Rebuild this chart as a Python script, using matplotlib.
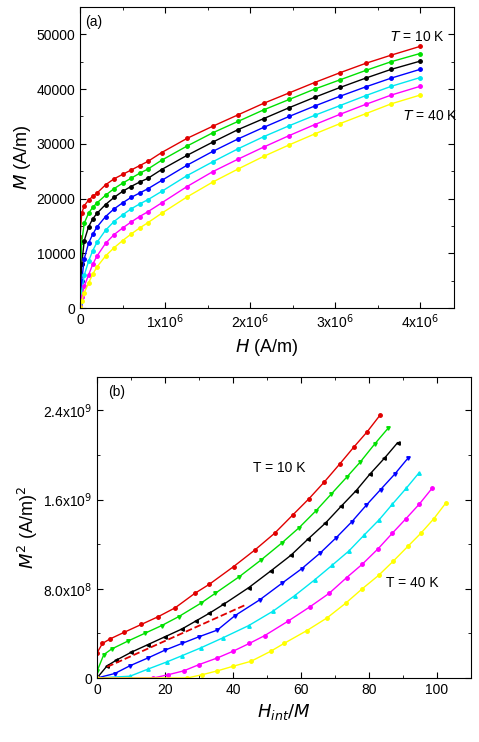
import numpy as np
import matplotlib.pyplot as plt

plt.rcParams['font.family'] = ['Liberation Sans', 'DejaVu Sans']

# (a) applied field (A/m) and magnetisation (A/m), T = 10 K ... 40 K
H = [0, 2e4, 5e4, 1e5, 1.5e5, 2e5, 3e5, 4e5, 5e5, 6e5, 7e5, 8e5, 9.6e5,
     1.26e6, 1.56e6, 1.86e6, 2.16e6, 2.46e6, 2.76e6, 3.06e6, 3.36e6, 3.66e6, 4e6]

M_10 = [13000, 17300, 18700, 19700, 20400, 21000, 22500, 23600, 24400, 25200, 26000, 26800, 28400,
        31000, 33200, 35300, 37400, 39300, 41200, 43000, 44700, 46200, 47800]
M_15 = [3500, 12000, 15500, 17300, 18400, 19200, 20600, 21800, 22800, 23700, 24600, 25400, 27000,
        29600, 32000, 34100, 36200, 38100, 40000, 41700, 43400, 45000, 46500]
M_20 = [1500, 8000, 12300, 14800, 16300, 17300, 18900, 20200, 21300, 22200, 23000, 23700, 25300,
        27900, 30300, 32600, 34600, 36600, 38500, 40300, 42000, 43600, 45100]
M_25 = [800, 5000, 9000, 11800, 13500, 14800, 16700, 18100, 19200, 20200, 21000, 21800, 23300,
        26100, 28600, 30900, 33000, 35000, 36900, 38700, 40400, 42000, 43600]
M_30 = [500, 3000, 6000, 8500, 10500, 12000, 14200, 15800, 17000, 18100, 19000, 19800, 21300,
        24200, 26700, 29100, 31300, 33300, 35200, 37000, 38800, 40500, 42100]
M_35 = [300, 2000, 4000, 6000, 8000, 9500, 11800, 13400, 14600, 15700, 16700, 17600, 19200,
        22200, 24900, 27200, 29400, 31500, 33500, 35400, 37200, 38900, 40500]
M_40 = [200, 1300, 2800, 4500, 6200, 7500, 9500, 11000, 12300, 13500, 14600, 15600, 17300,
        20300, 23000, 25400, 27700, 29800, 31800, 33700, 35500, 37300, 38900]

# (b) Arrott plot: H_int/M and M^2 (A/m)^2
x_10 = [0, 1.6, 3.8, 8, 13, 18, 23, 28.8, 33, 40.2, 46.5, 52.3, 57.5, 62.4, 66.9, 71.4, 75.5, 79.5, 83.3]
y_10 = [2.25e8, 3.1e8, 3.5e8, 4.1e8, 4.8e8, 5.5e8, 6.3e8, 7.6e8, 8.4e8, 1.0e9, 1.15e9, 1.30e9,
        1.46e9, 1.61e9, 1.76e9, 1.92e9, 2.07e9, 2.21e9, 2.36e9]
x_15 = [0, 2, 4.3, 9, 14, 19, 24, 30.5, 34.8, 41.9, 48.3, 54.3, 59.5, 64.4, 68.9, 73.4, 77.5, 81.7, 85.6]
y_15 = [0.6e8, 2.1e8, 2.6e8, 3.3e8, 4.0e8, 4.7e8, 5.5e8, 6.7e8, 7.6e8, 9.1e8, 1.06e9, 1.21e9,
        1.35e9, 1.50e9, 1.65e9, 1.80e9, 1.94e9, 2.10e9, 2.24e9]
x_20 = [0, 3, 5.7, 10, 15, 20, 25, 29, 33, 37.2, 44.6, 51.1, 57, 62.2, 67.2, 71.8, 76.2, 80.3, 84.5, 88.4]
y_20 = [0, 1.1e8, 1.6e8, 2.3e8, 3.0e8, 3.7e8, 4.4e8, 5.1e8, 5.8e8, 6.6e8, 8.1e8, 9.6e8, 1.10e9,
        1.25e9, 1.39e9, 1.54e9, 1.68e9, 1.83e9, 1.97e9, 2.11e9]
x_25 = [0, 5.2, 9.7, 15, 20, 25, 30, 35.4, 40.6, 47.8, 54.4, 60.2, 65.6, 70.4, 74.9, 79.2, 83.4, 87.6, 91.4]
y_25 = [0, 0.4e8, 1.1e8, 1.8e8, 2.5e8, 3.1e8, 3.7e8, 4.3e8, 5.6e8, 7.0e8, 8.5e8, 9.8e8, 1.12e9,
        1.26e9, 1.40e9, 1.55e9, 1.69e9, 1.83e9, 1.97e9]
x_30 = [0, 9.7, 15, 20.6, 25, 30.5, 37, 44.6, 51.8, 58.2, 64, 69.1, 74.1, 78.5, 83, 86.9, 90.9, 94.7]
y_30 = [0, 0.16e8, 0.8e8, 1.45e8, 2.0e8, 2.7e8, 3.6e8, 4.7e8, 6.0e8, 7.4e8, 8.8e8, 1.01e9, 1.14e9,
        1.28e9, 1.42e9, 1.56e9, 1.70e9, 1.84e9]
x_35 = [0, 16.6, 21, 25.5, 30, 35.4, 40, 44.8, 49.3, 56.2, 62.7, 68.3, 73.4, 78, 82.7, 86.9, 90.9, 94.8, 98.5]
y_35 = [0, 0, 0.3e8, 0.64e8, 1.2e8, 1.8e8, 2.4e8, 3.1e8, 3.8e8, 5.1e8, 6.4e8, 7.6e8, 9.0e8, 1.02e9,
        1.16e9, 1.30e9, 1.43e9, 1.56e9, 1.70e9]
x_40 = [0, 26.5, 31, 35.4, 40, 45.3, 51.1, 55, 61.7, 67.7, 73.1, 78, 82.8, 87.2, 91.4, 95.3, 99.1, 102.6]
y_40 = [0, 0, 0.3e8, 0.64e8, 1.05e8, 1.5e8, 2.4e8, 3.1e8, 4.25e8, 5.4e8, 6.7e8, 8.0e8, 9.2e8,
        1.05e9, 1.18e9, 1.30e9, 1.43e9, 1.57e9]

series_a = [M_10, M_15, M_20, M_25, M_30, M_35, M_40]
series_b = [(x_10, y_10), (x_15, y_15), (x_20, y_20), (x_25, y_25),
            (x_30, y_30), (x_35, y_35), (x_40, y_40)]
colors = ['#e00000', '#00e000', '#000000', '#0000ff', '#00e8f0', '#ff00ff', '#ffff00']
mk_b = ['o', 'v', '<', 'v', '^', 'o', 'o']

fig = plt.figure(figsize=(4.79, 7.42), dpi=100)
ax1 = fig.add_axes([80/479, 1-308/742, 374/479, 301/742])
ax2 = fig.add_axes([97/479, 1-678/742, 374/479, 301/742])

for M, c in zip(series_a, colors):
    ax1.plot(H, M, '-', color=c, lw=1, marker='o', ms=2.5)

ax1.set_xlim(0, 4.4e6)
ax1.set_ylim(0, 55000)
ax1.set_xticks([0, 1e6, 2e6, 3e6, 4e6])
ax1.set_xticklabels(['0', r'1x10$^6$', r'2x10$^6$', r'3x10$^6$', r'4x10$^6$'])
ax1.set_xticks(np.arange(5e5, 4.4e6, 1e6), minor=True)
ax1.set_yticks(np.arange(0, 50001, 10000))
ax1.set_yticks(np.arange(5000, 55000, 10000), minor=True)
ax1.set_xlabel(r'$H$ (A/m)', fontsize=13)
ax1.set_ylabel(r'$M$ (A/m)', fontsize=13, labelpad=2)
ax1.text(0.015, 0.975, '(a)', transform=ax1.transAxes, fontsize=10, va='top')
ax1.text(3.65e6, 48700, r'$T$ = 10 K', fontsize=10)
ax1.text(3.8e6, 34300, r'$T$ = 40 K', fontsize=10)

for (x, y), c, m in zip(series_b, colors, mk_b):
    ax2.plot(x, y, '-', color=c, lw=1, marker=m, ms=2.5)
ax2.plot([3, 44], [1.0e8, 6.6e8], '--', color='#e00000', lw=1.3)

ax2.set_xlim(0, 110)
ax2.set_ylim(0, 2.7e9)
ax2.set_xticks(np.arange(0, 101, 20))
ax2.set_xticks(np.arange(10, 110, 20), minor=True)
ax2.set_yticks([0, 8e8, 1.6e9, 2.4e9])
ax2.set_yticklabels(['0', r'8.0x10$^8$', r'1.6x10$^9$', r'2.4x10$^9$'])
ax2.set_yticks([4e8, 1.2e9, 2.0e9], minor=True)
ax2.set_xlabel(r'$H_{int}/M$', fontsize=13)
ax2.set_ylabel(r'$M^2$ (A/m)$^2$', fontsize=13, labelpad=2)
ax2.text(0.03, 0.975, '(b)', transform=ax2.transAxes, fontsize=10, va='top')
ax2.text(46, 1.85e9, 'T = 10 K', fontsize=10)
ax2.text(85, 8.2e8, 'T = 40 K', fontsize=10)

for ax in (ax1, ax2):
    ax.tick_params(which='both', direction='in', top=True, right=True, labelsize=10)
    ax.tick_params(which='major', length=4)
    ax.tick_params(which='minor', length=2.5)

fig.savefig('out.png', dpi=100)
